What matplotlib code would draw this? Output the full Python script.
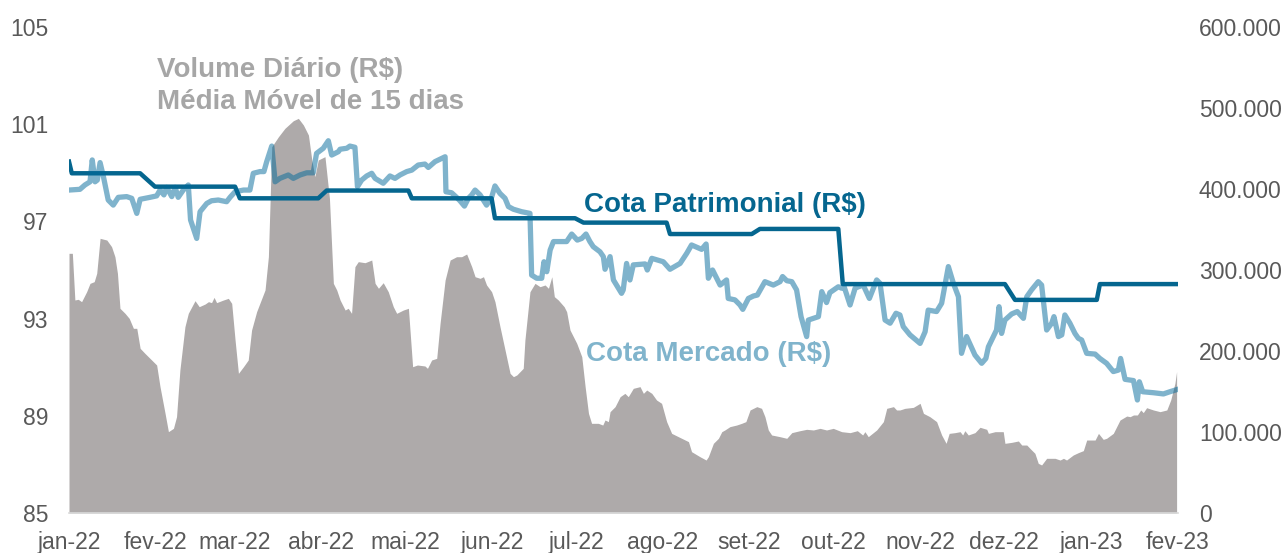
import numpy as np
import pandas as pd
import matplotlib
matplotlib.use("Agg")
import matplotlib.pyplot as plt

plt.rcParams['font.family'] = ['Liberation Sans', 'DejaVu Sans']

inicio = pd.Timestamp('2022-01-01')

# cota mercado (R$) - dias desde 01/01/2022
merc_dias = [0, 3.9, 5.7, 7.5, 8.3, 9.3, 10.1, 11.1, 12.3, 14.0, 15.8, 17.6, 20.6, 22.4, 24.2, 25.4,
             28.9, 31.3, 32.5, 33.9, 34.9, 36.7, 37.9, 39.0, 40.8, 42.6, 43.4, 45.6, 46.8, 49.2, 50.9,
             53.3, 56.3, 57.5, 59.3, 62.3, 64.6, 65.8, 68.2, 69.6, 70.6, 72.4, 73.6, 75.3, 78.3, 80.1,
             82.5, 84.9, 87.2, 88.4, 90.8, 92.6, 93.8, 96.2, 96.8, 99.2, 100.3, 102.1, 103.0, 104.5,
             106.3, 108.1, 109.3, 112.2, 114.6, 116.4, 118.2, 120.6, 122.4, 124.7, 127.1, 128.3, 130.7,
             134.3, 134.6, 136.6, 138.4, 139.6, 141.2, 142.6, 143.8, 145.0, 146.8, 149.1, 150.9, 152.1,
             153.9, 155.7, 156.9, 158.7, 161.6, 164.6, 165.2, 167.0, 168.8, 169.6, 170.6, 171.8, 173.0,
             175.9, 177.7, 179.5, 181.5, 183.1, 184.6, 186.0, 187.2, 189.6, 190.8, 191.4, 193.2, 194.4,
             197.3, 197.9, 199.1, 200.3, 201.5, 205.7, 206.5, 208.1, 212.2, 214.6, 218.2, 220.6, 222.3,
             225.9, 227.5, 228.3, 229.8, 232.5, 234.8, 235.4, 237.8, 239.6, 240.6, 242.6, 244.4, 245.8,
             248.5, 251.5, 253.9, 254.8, 256.3, 258.1, 259.8, 261.4, 263.4, 264.0, 267.6, 268.8, 270.5,
             271.7, 274.7, 275.9, 276.7, 278.9, 280.7, 281.9, 283.6, 285.8, 288.4, 289.6, 291.4, 293.2,
             295.3, 296.7, 297.9, 300.3, 303.9, 305.7, 306.8, 309.8, 311.6, 314.0, 315.8, 317.6, 318.7,
             320.5, 323.5, 325.9, 327.4, 328.3, 331.2, 332.1, 333.0, 334.2, 336.6, 338.6, 340.8, 342.0,
             343.7, 346.1, 347.3, 349.1, 350.9, 351.7, 353.3, 354.5, 355.6, 357.4, 359.2, 360.4, 361.6,
             363.4, 366.4, 368.1, 370.5, 372.9, 374.7, 375.5, 377.1, 380.1, 381.5, 382.2, 383.4, 387.2,
             390.8, 393.1, 395.9]
merc_cota = [98.29, 98.32, 98.50, 98.63, 99.53, 98.63, 98.70, 99.42, 98.84, 97.88, 97.67, 97.99, 98.02,
             97.95, 97.33, 97.91, 97.99, 98.05, 98.29, 98.09, 98.40, 98.02, 98.40, 97.99, 98.29, 98.50,
             97.06, 96.30, 97.40, 97.74, 97.85, 97.88, 97.81, 97.99, 98.22, 98.29, 98.29, 98.98, 99.05,
             99.05, 99.46, 100.10, 98.63, 98.77, 98.91, 98.77, 98.91, 99.00, 99.00, 99.80, 100.01,
             100.32, 99.73, 99.87, 99.97, 100.01, 100.10, 100.05, 98.43, 98.70, 98.87, 98.98, 98.77,
             98.57, 98.87, 98.77, 98.91, 99.05, 99.11, 99.32, 99.36, 99.22, 99.46, 99.66, 98.22, 98.18,
             97.99, 97.85, 97.63, 97.95, 98.09, 98.29, 98.09, 97.67, 97.99, 98.46, 98.15, 97.95, 97.61,
             97.50, 97.40, 97.33, 94.79, 94.66, 94.66, 95.34, 94.93, 95.82, 96.17, 96.17, 96.17, 96.48,
             96.23, 96.30, 96.48, 96.17, 95.96, 95.75, 95.55, 95.03, 95.55, 94.59, 94.04, 94.18, 95.27,
             94.59, 95.21, 95.25, 95.00, 95.48, 95.34, 95.03, 95.27, 95.69, 96.03, 95.85, 96.07, 94.66,
             95.00, 94.38, 94.59, 93.83, 93.77, 93.56, 93.38, 93.83, 93.93, 93.97, 94.52, 94.38, 94.52,
             94.73, 94.56, 94.52, 94.18, 93.08, 92.26, 92.94, 93.08, 94.11, 93.66, 94.07, 94.31, 94.25,
             94.34, 93.56, 94.25, 94.31, 94.38, 93.83, 94.59, 94.45, 92.94, 92.81, 93.22, 93.15, 92.67,
             92.33, 91.98, 92.46, 93.35, 93.29, 93.63, 95.14, 94.45, 93.90, 91.57, 92.26, 91.50, 91.16,
             91.36, 91.84, 92.53, 93.49, 92.39, 92.94, 93.19, 93.29, 93.01, 93.90, 94.18, 94.52, 94.38,
             92.53, 92.81, 93.08, 92.26, 92.33, 93.15, 92.81, 92.39, 92.19, 92.12, 91.57, 91.54, 91.36,
             91.16, 90.82, 90.88, 91.36, 90.50, 90.45, 89.65, 90.40, 89.99, 89.95, 89.90, 89.99, 90.09]

# cota patrimonial (R$)
pat_dias = [0, 1, 25.4, 30.7, 59.3, 61, 89, 92, 121.2, 122.4, 150.9, 152.1, 180.7, 183.7, 213.4,
            214.6, 243.8, 246.7, 274.7, 276.3, 334.2, 337.8, 367, 368.1, 395.9]
pat_cota = [99.46, 98.98, 98.98, 98.43, 98.43, 97.95, 97.95, 98.27, 98.27, 97.95, 97.95, 97.13,
            97.13, 96.95, 96.95, 96.48, 96.48, 96.69, 96.69, 94.42, 94.42, 93.77, 93.77, 94.42, 94.42]

# volume diario, media movel 15 dias (mil R$)
vol_dias = [0, 1.2, 2.1, 3.3, 4.5, 6.3, 7.5, 9.0, 9.9, 11.1, 13.5, 15.2, 16.4, 17.3, 18.2, 20.0, 21.5,
            23.0, 24.2, 25.4, 27.1, 29.5, 31.3, 32.5, 34.3, 35.5, 37.3, 38.4, 39.6, 41.4, 42.6, 45.0,
            46.5, 48.6, 49.8, 50.9, 51.8, 52.7, 55.1, 56.9, 58.1, 59.3, 60.5, 62.3, 64.0, 65.2, 67.0,
            70.0, 71.2, 72.4, 74.8, 77.1, 80.1, 81.9, 83.7, 85.5, 86.7, 87.8, 89.0, 91.4, 93.0, 94.4,
            95.6, 96.8, 98.6, 99.7, 100.9, 102.1, 103.3, 105.7, 108.1, 109.3, 110.5, 112.2, 114.0,
            115.8, 117.0, 119.4, 121.2, 122.7, 124.4, 127.1, 128.0, 129.5, 131.3, 132.5, 134.3, 136.1,
            138.4, 140.2, 142.0, 143.8, 145.0, 146.8, 148.0, 149.1, 150.9, 152.1, 153.9, 155.7, 157.5,
            158.7, 159.9, 162.2, 162.8, 164.6, 166.4, 168.2, 170.0, 171.2, 172.4, 173.3, 174.7, 176.8,
            177.7, 178.9, 181.3, 183.1, 184.3, 185.5, 186.6, 189.0, 190.6, 191.4, 192.6, 193.2, 195.0,
            196.8, 198.5, 199.7, 201.5, 203.9, 205.1, 206.3, 208.1, 209.8, 211.6, 213.4, 215.2, 217.6,
            221.2, 222.3, 225.3, 227.5, 228.3, 230.1, 231.9, 233.1, 234.2, 236.0, 238.4, 240.2, 241.7,
            243.2, 245.6, 247.3, 248.5, 249.7, 250.9, 253.9, 256.3, 258.1, 261.0, 263.4, 265.8, 268.2,
            270.5, 272.9, 275.9, 278.9, 281.5, 283.4, 284.2, 285.4, 288.4, 290.8, 292.0, 294.4, 295.5,
            296.7, 298.5, 301.5, 303.9, 305.1, 307.4, 309.8, 311.6, 313.2, 314.3, 316.4, 318.2, 319.1,
            319.9, 321.1, 323.5, 325.3, 327.7, 328.3, 330.7, 332.4, 333.6, 334.2, 336.6, 339.0, 340.2,
            342.0, 343.7, 344.9, 346.1, 347.3, 349.1, 352.1, 353.9, 355.1, 356.2, 358.6, 360.4, 362.2,
            363.4, 366.4, 367.6, 369.3, 370.5, 372.9, 375.3, 377.7, 378.9, 380.1, 381.5, 382.7, 383.6,
            384.8, 387.2, 389.6, 392.0, 393.4, 394.9, 395.5]
vol_mil = [320.6, 320.6, 263.0, 263.8, 260.9, 273.2, 283.5, 285.6, 295.9, 339.1, 337.0, 328.8, 316.4,
           295.9, 252.7, 246.5, 240.3, 228.0, 228.0, 203.3, 197.1, 188.9, 182.7, 156.0, 123.1, 100.4,
           104.5, 118.9, 176.5, 230.0, 246.5, 262.1, 254.7, 258.0, 260.9, 259.7, 266.2, 259.7, 262.9,
           265.0, 258.8, 213.6, 172.4, 180.6, 188.9, 225.9, 248.5, 275.3, 316.4, 452.2, 464.6, 474.9,
           484.3, 487.2, 479.0, 466.6, 435.8, 415.2, 435.8, 439.9, 388.5, 283.5, 275.3, 263.0, 250.6,
           252.7, 246.5, 304.1, 310.3, 309.0, 312.3, 283.5, 277.4, 284.3, 273.2, 254.7, 246.5, 250.6,
           252.7, 180.6, 182.7, 181.5, 178.6, 188.9, 190.9, 234.1, 287.6, 312.3, 316.4, 316.4, 319.7,
           304.1, 291.7, 289.7, 291.7, 281.5, 273.2, 260.9, 230.0, 201.2, 172.4, 168.3, 170.4, 178.6,
           213.6, 273.2, 283.5, 279.4, 281.5, 277.4, 291.7, 267.1, 263.0, 254.7, 248.5, 225.9, 209.5,
           193.0, 156.0, 123.0, 110.7, 110.7, 108.6, 114.8, 112.8, 125.1, 131.3, 143.6, 147.7, 143.6,
           153.9, 156.0, 147.7, 151.8, 147.7, 139.5, 135.4, 112.8, 98.3, 94.2, 88.1, 75.7, 69.5, 65.4,
           69.5, 86.0, 92.2, 100.4, 102.5, 106.6, 108.6, 110.7, 112.8, 127.2, 131.3, 129.2, 118.9,
           102.5, 96.3, 94.2, 92.2, 99.2, 101.6, 103.3, 102.5, 104.5, 102.5, 104.5, 100.4, 99.2, 101.6,
           96.3, 100.4, 94.2, 102.5, 112.8, 129.2, 131.3, 127.2, 127.2, 129.2, 130.4, 135.4, 123.0,
           118.9, 112.8, 96.3, 86.0, 98.3, 99.2, 100.4, 96.3, 101.6, 96.3, 99.2, 105.8, 103.3, 98.3,
           100.4, 100.4, 100.4, 86.0, 87.2, 88.9, 83.9, 83.9, 77.8, 73.7, 61.3, 59.3, 67.5, 67.5, 65.4,
           67.5, 65.4, 71.6, 74.5, 77.0, 90.1, 90.1, 98.3, 90.9, 92.2, 98.3, 114.8, 119.7, 118.9,
           121.0, 121.0, 127.2, 123.9, 130.0, 127.2, 125.1, 127.2, 139.5, 160.1, 174.5]

meses = ['jan-22', 'fev-22', 'mar-22', 'abr-22', 'mai-22', 'jun-22', 'jul-22', 'ago-22',
         'set-22', 'out-22', 'nov-22', 'dez-22', 'jan-23', 'fev-23']
esq_ticks = [85, 89, 93, 97, 101, 105]
dir_ticks = [0, 100000, 200000, 300000, 400000, 500000, 600000]
dir_labels = ['0', '100.000', '200.000', '300.000', '400.000', '500.000', '600.000']

def datas(d):
    return inicio + pd.to_timedelta(np.array(d), unit='D')

fig = plt.figure(figsize=(12.87, 5.53), dpi=100)
ax = fig.add_axes([69/1287, 1-513/553, 1109/1287, 486/553])
ax2 = ax.twinx()
ax.set_zorder(ax2.get_zorder() + 1)
ax.patch.set_visible(False)

ax2.fill_between(datas(vol_dias), np.array(vol_mil)*1000, 0, color='#aeaaaa', lw=0)
ax.plot(datas(pat_dias), pat_cota, color='#05668f', lw=3.2, solid_joinstyle='round')
ax.plot(datas(merc_dias), merc_cota, color='#01699a', alpha=0.5, lw=3.8, solid_joinstyle='round')

ax.set_xlim(inicio, inicio + pd.Timedelta(days=396))
ax.set_ylim(85, 105)
ax2.set_ylim(0, 600000)

tk = pd.date_range('2022-01-01', '2023-02-01', freq='MS')
ax.set_xticks(tk)
ax.set_xticklabels(meses)
ax.set_yticks(esq_ticks)
ax.set_yticklabels([str(v) for v in esq_ticks])
ax2.set_yticks(dir_ticks)
ax2.set_yticklabels(dir_labels)

for a in (ax, ax2):
    for s in a.spines.values():
        s.set_visible(False)
ax.spines['bottom'].set_visible(True)
ax.spines['bottom'].set_color('#d9d9d9')
ax.spines['bottom'].set_linewidth(1.2)

ax.tick_params(axis='x', length=0, pad=13, labelsize=16.5, labelcolor='#595959')
ax.tick_params(axis='y', length=0, pad=15, labelsize=16.5, labelcolor='#595959')
ax2.tick_params(axis='y', length=0, pad=15, labelsize=16.5, labelcolor='#595959')

ax.text(0.0794, 0.9115, 'Volume Diário (R$)', transform=ax.transAxes, fontsize=20,
        fontweight='bold', color='#a6a6a6', va='center', ha='left')
ax.text(0.0794, 0.8457, 'Média Móvel de 15 dias', transform=ax.transAxes, fontsize=20,
        fontweight='bold', color='#a6a6a6', va='center', ha='left')
ax.text(0.4644, 0.6337, 'Cota Patrimonial (R$)', transform=ax.transAxes, fontsize=20,
        fontweight='bold', color='#05668f', va='center', ha='left')
ax.text(0.4662, 0.3272, 'Cota Mercado (R$)', transform=ax.transAxes, fontsize=20,
        fontweight='bold', color='#80b4cc', va='center', ha='left')

fig.savefig('out.png', dpi=100)
